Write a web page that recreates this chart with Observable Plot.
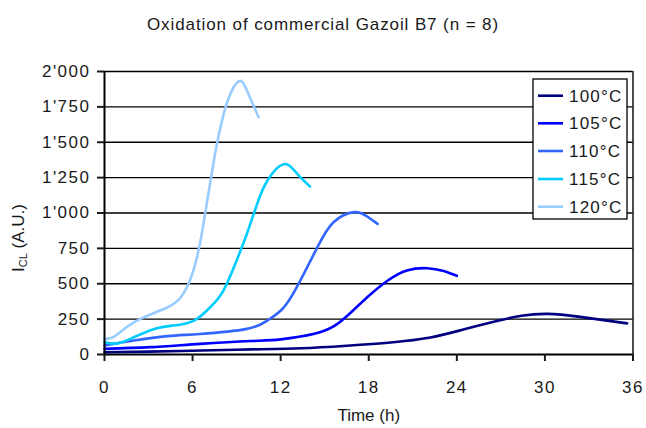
<!DOCTYPE html>
<html>
<head>
<meta charset="utf-8">
<script src="https://cdn.jsdelivr.net/npm/d3@7"></script>
<script src="https://cdn.jsdelivr.net/npm/@observablehq/plot@0.6"></script>
<style>
  body { margin: 0; background: #fff; }
  #wrap { width: 646px; height: 428px; position: relative; font-family: "Liberation Sans", Arial, sans-serif; color: #1a1a1a; }
  #title { height: 40px; box-sizing: border-box; padding-top: 16px; line-height: 18px; font-size: 17px; letter-spacing: 0.9px; text-align: center; }
  svg text { fill: #1a1a1a; }
  .tk text { letter-spacing: 1.5px; }
</style>
</head>
<body>
<div id="wrap">
  <div id="title">Oxidation of commercial Gazoil B7 (n = 8)</div>
  <div id="chart"></div>
</div>
<script>
const series = ["100°C", "105°C", "110°C", "115°C", "120°C"];
const colors = ["#000080", "#0000FF", "#3366FF", "#00CCFF", "#99CCFF"];
const xTicks = [0, 6, 12, 18, 24, 30, 36];
const yTicks = [0, 250, 500, 750, 1000, 1250, 1500, 1750, 2000];

const t100 = [0, 3, 6.6, 10, 13.4, 16.5, 19.5, 22.2, 24.5, 26.8, 28.4, 30.2, 32.4, 35.6];
const v100 = [16, 20, 28, 36, 44, 62, 85, 120, 178, 238, 274, 287, 266, 220];
const t105 = [0, 3.1, 6.5, 10, 12, 14.3, 15.6, 16.5, 17.9, 19.3, 20.6, 22, 23.1, 24];
const v105 = [40, 52, 75, 95, 107, 146, 198, 270, 405, 523, 594, 610, 590, 556];
const t110 = [0, 2, 4.3, 6.5, 9.7, 11.1, 12.1, 13.1, 14.5, 15.6, 17, 17.9, 18.6];
const v110 = [64, 99, 130, 145, 181, 240, 320, 476, 758, 935, 1006, 975, 923];
const t115 = [0, 0.9, 2, 3.4, 4.7, 6.1, 7.2, 8.1, 9, 9.7, 10.4, 11.1, 12.2, 13.1, 14];
const v115 = [87, 78, 122, 181, 205, 240, 334, 452, 664, 853, 1065, 1230, 1345, 1280, 1187];
const t120 = [0, 0.6, 1.5, 2.7, 4.3, 5.2, 5.9, 6.5, 7, 7.45, 7.8, 8.4, 9.15, 9.7, 10.5];
const v120 = [111, 122, 193, 264, 334, 405, 546, 782, 1088, 1371, 1560, 1795, 1931, 1866, 1677];

const ts = [t100, t105, t110, t115, t120];
const vs = [v100, v105, v110, v115, v120];
const data = series.flatMap((k, i) => ts[i].map((t, j) => ({t, v: vs[i][j], k})));

const fmt = d => d3.format(",")(d).replace(/,/g, "'");

const plot = Plot.plot({
  width: 646,
  height: 388,
  marginLeft: 104,
  marginRight: 13.5,
  marginTop: 31,
  marginBottom: 74,
  style: {fontFamily: "Liberation Sans, Arial, sans-serif", fontSize: "17px", color: "#1a1a1a", background: "#fff"},
  x: {domain: [0, 36]},
  y: {domain: [0, 2000]},
  color: {domain: series, range: colors},
  marks: [
    Plot.ruleY(yTicks.filter(d => d > 0), {stroke: "#000", strokeWidth: 1.4}),
    Plot.ruleX([36], {y1: 0, y2: 2000, stroke: "#000", strokeWidth: 1.4}),
    Plot.line(data, {x: "t", y: "v", z: "k", stroke: "k", curve: "natural", strokeWidth: 2.6}),
    Plot.ruleX([0], {y1: 0, y2: 2000, stroke: "#000", strokeWidth: 2}),
    Plot.ruleY([0], {x1: 0, x2: 36, stroke: "#000", strokeWidth: 2}),
    Plot.axisX({ticks: xTicks, tickSize: 7, tickPadding: 19, strokeWidth: 2, label: null, className: "tk"}),
    Plot.axisY({ticks: yTicks, tickSize: 7, tickPadding: 7, strokeWidth: 2, tickFormat: fmt, label: null, className: "tk"}),
    Plot.text(["Time (h)"], {frameAnchor: "bottom", dy: 61, lineAnchor: "middle", fontSize: 17})
  ]
});
document.getElementById("chart").appendChild(plot);

const svg = d3.select(plot);
// y-axis title with subscript
const yl = svg.append("text")
  .attr("transform", "translate(24,198) rotate(-90)")
  .attr("text-anchor", "middle")
  .attr("font-size", 17);
yl.append("tspan").text("I");
yl.append("tspan").attr("font-size", 11).attr("dy", 3).text("CL");
yl.append("tspan").attr("dy", -3).text(" (A.U.)");

// legend
const lg = svg.append("g").attr("text-anchor", "start");
lg.append("rect").attr("x", 533).attr("y", 39).attr("width", 94).attr("height", 140)
  .attr("fill", "#fff").attr("stroke", "#000").attr("stroke-width", 1.3);
const rowY = [55.7, 83.3, 111, 139, 166.7];
series.forEach((s, i) => {
  lg.append("line").attr("x1", 538).attr("x2", 563).attr("y1", rowY[i]).attr("y2", rowY[i])
    .attr("stroke", colors[i]).attr("stroke-width", 2.6);
  lg.append("text").attr("x", 569).attr("y", rowY[i]).attr("dy", "0.35em")
    .attr("text-anchor", "start")
    .attr("font-size", 17).attr("letter-spacing", "1.2px").text(s);
});
</script>
</body>
</html>
